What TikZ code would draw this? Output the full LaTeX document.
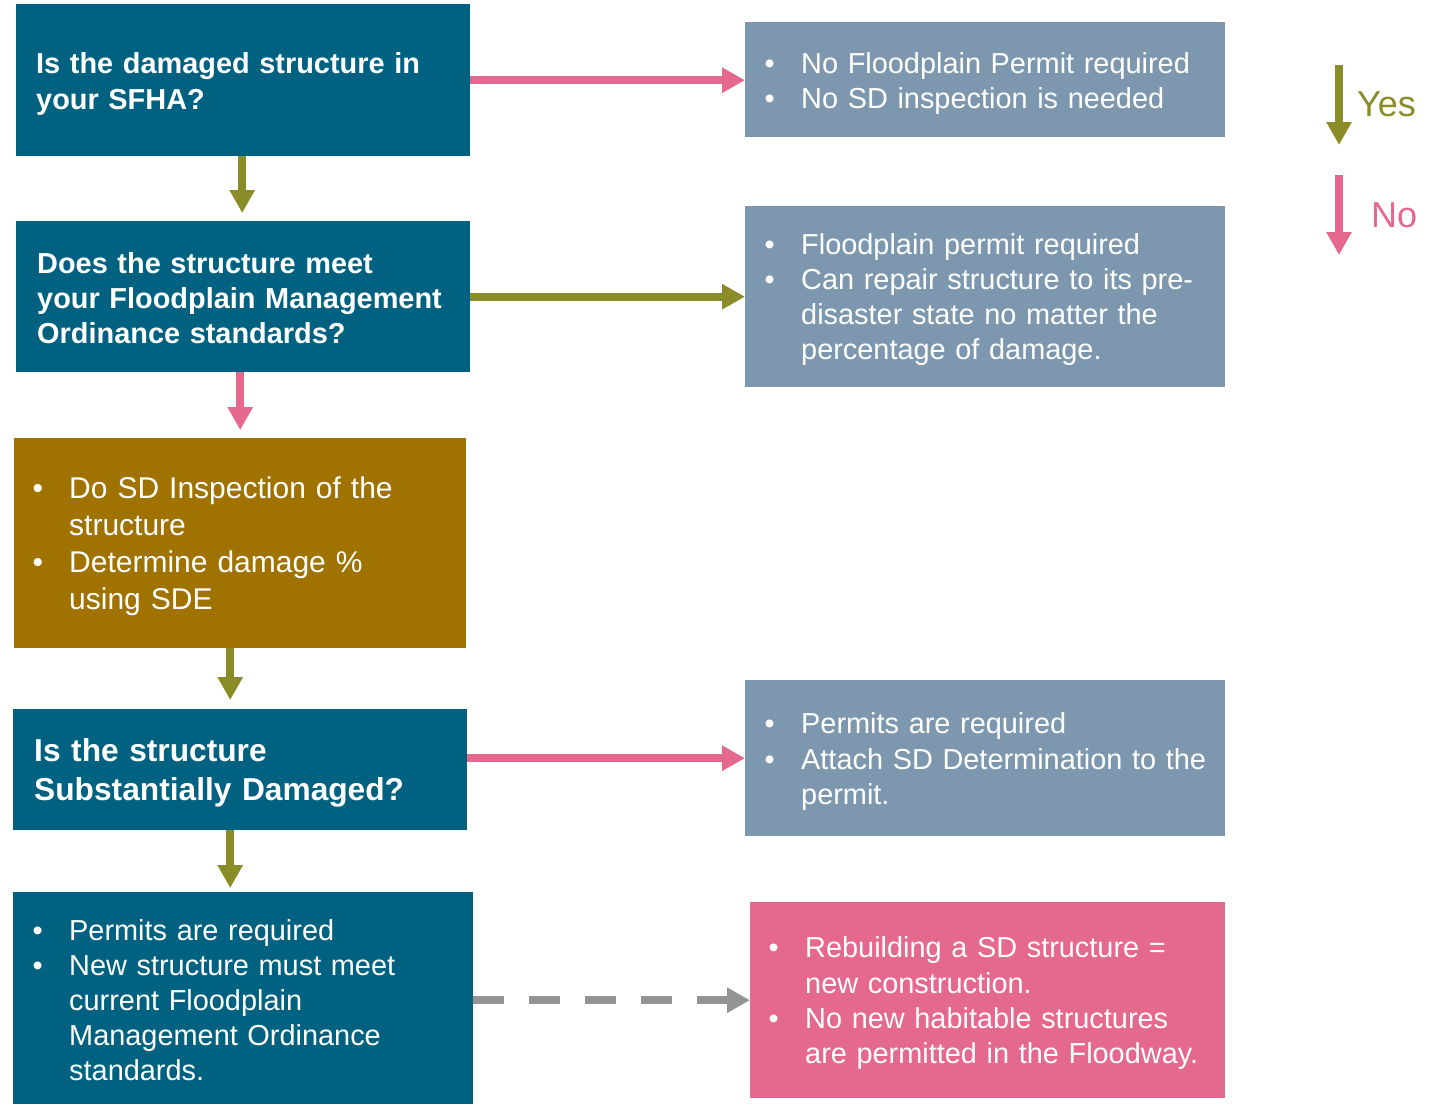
\documentclass[tikz,border=0pt]{standalone}
\usepackage{fontspec}
\setmainfont{Liberation Sans}
\usetikzlibrary{arrows.meta}
\definecolor{cTeal}{HTML}{006280}
\definecolor{cGrey}{HTML}{7D98AE}
\definecolor{cGold}{HTML}{A07300}
\definecolor{cPink}{HTML}{E5688F}
\definecolor{cOlive}{HTML}{8A8C28}
\definecolor{cDash}{HTML}{949494}
\newcommand\bl[1]{\mbox{\makebox[32pt][l]{\hspace*{-4.5pt}\textbullet}#1}}
\newcommand\cl[1]{\mbox{\hspace*{32pt}#1}}
\begin{document}
\begin{tikzpicture}[x=1pt,y=-1pt,
  box/.style={rectangle, inner sep=0pt, anchor=north west},
  txt/.style={inner sep=0pt, text=white, align=left},
  reg/.style={font=\fontsize{28.9}{35.2}\selectfont},
  bld/.style={font=\bfseries\fontsize{28.9}{35.4}\selectfont},
  arr/.style={line width=8pt, -{Triangle[width=24pt,length=23pt]}}]
\useasboundingbox (0,0) rectangle (1442,1104);
\fill[white] (0,0) rectangle (1442,1104);

% boxes
\node[box, fill=cTeal, minimum width=454pt, minimum height=152pt] (B1) at (16,4) {};
\node[box, fill=cTeal, minimum width=454pt, minimum height=151pt] (B2) at (16,221) {};
\node[box, fill=cGold, minimum width=452pt, minimum height=210pt] (B3) at (14,438) {};
\node[box, fill=cTeal, minimum width=454pt, minimum height=121pt] (B4) at (13,709) {};
\node[box, fill=cTeal, minimum width=460pt, minimum height=212pt] (B5) at (13,892) {};
\node[box, fill=cGrey, minimum width=480pt, minimum height=115pt] (R1) at (745,22) {};
\node[box, fill=cGrey, minimum width=480pt, minimum height=181pt] (R2) at (745,206) {};
\node[box, fill=cGrey, minimum width=480pt, minimum height=156pt] (R3) at (745,680) {};
\node[box, fill=cPink, minimum width=475pt, minimum height=196pt] (R4) at (750,902) {};

% texts
\node[txt, bld, text width=414pt] (B1t) at ([yshift=-4pt]B1.center)
  {\mbox{Is the damaged structure in}\\\mbox{your SFHA?}};
\node[txt, bld, text width=412pt] (B2t) at ([yshift=-1.5pt]B2.center)
  {\mbox{Does the structure meet}\\\mbox{your Floodplain Management}\\\mbox{Ordinance standards?}};
\node[txt, text width=406pt, font=\fontsize{30}{37}\selectfont] (B3t) at ([yshift=-3.5pt]B3.center)
  {\bl{Do SD Inspection of the}\\\cl{structure}\\\bl{Determine damage \%}\\\cl{using SDE}};
\node[txt, text width=412pt, font=\bfseries\fontsize{31.7}{39.5}\selectfont] (B4t) at ([yshift=-3pt]B4.center)
  {\mbox{Is the structure}\\\mbox{Substantially Damaged?}};
\node[txt, reg, text width=412pt] (B5t) at ([yshift=-2pt]B5.center)
  {\bl{Permits are required}\\\bl{New structure must meet}\\\cl{current Floodplain}\\\cl{Management Ordinance}\\\cl{standards.}};
\node[txt, reg, text width=432pt] (R1t) at ([yshift=-4pt]R1.center)
  {\bl{No Floodplain Permit required}\\\bl{No SD inspection is needed}};
\node[txt, reg, text width=432pt] (R2t) at ([yshift=-3pt]R2.center)
  {\bl{Floodplain permit required}\\\bl{Can repair structure to its pre-}\\\cl{disaster state no matter the}\\\cl{percentage of damage.}};
\node[txt, reg, text width=432pt] (R3t) at ([yshift=-3.5pt]R3.center)
  {\bl{Permits are required}\\\bl{Attach SD Determination to the}\\\cl{permit.}};
\node[txt, reg, text width=429pt] (R4t) at ([yshift=-3pt]R4.center)
  {\bl{Rebuilding a SD structure =}\\\cl{new construction.}\\\bl{No new habitable structures}\\\cl{are permitted in the Floodway.}};

% connectors
\coordinate (b2n) at ([yshift=8pt]B2.north);
\coordinate (b3n) at ([yshift=8pt]B3.north);
\coordinate (b4n) at ([yshift=9pt]B4.north);
\coordinate (b5n) at ([yshift=4pt]B5.north);
\draw[arr, cPink] (B1.east) -- (R1.west |- B1.east);
\draw[arr, cOlive] ([xshift=-1pt]B1.south) -- ([xshift=-1pt]B1.south |- b2n);
\draw[arr, cOlive] (B2.east) -- (R2.west |- B2.east);
\draw[arr, cPink] (B2.south -| B3.north) -- (b3n);
\draw[arr, cOlive] ([xshift=-10pt]B3.south) -- ([xshift=-10pt]B3.south |- b4n);
\draw[arr, cPink] (B4.east |- R3.west) -- (R3.west);
\draw[arr, cOlive] ([xshift=-10pt]B4.south) -- ([xshift=-10pt]B4.south |- b5n);
\draw[arr, cDash, dash pattern=on 31pt off 25pt] (B5.east |- R4.west) -- (R4.west);

% legend
\coordinate (Yt) at (1339,65);
\coordinate (Yb) at (1339,145);
\coordinate (Nt) at (1339,175);
\coordinate (Nb) at (1339,255);
\draw[arr, cOlive] (Yt) -- (Yb);
\draw[arr, cPink] (Nt) -- (Nb);
\node[anchor=west, inner sep=0pt, text=cOlive, font=\fontsize{36}{42}\selectfont] (Yes) at (1357,104) {Yes};
\node[anchor=west, inner sep=0pt, text=cPink, font=\fontsize{36}{42}\selectfont] (No) at (1371,215) {No};
\end{tikzpicture}
\end{document}
